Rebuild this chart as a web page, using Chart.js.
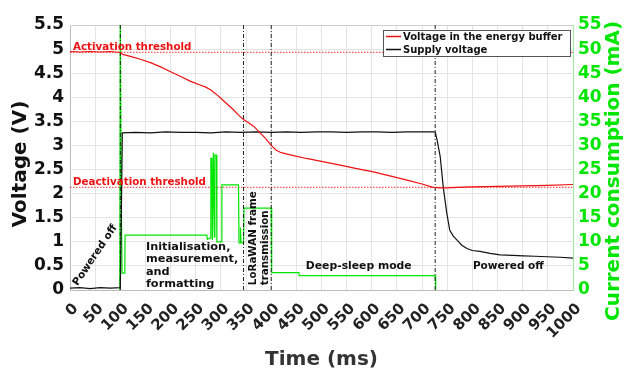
<!DOCTYPE html>
<html>
<head>
<meta charset="utf-8">
<script src="https://cdn.jsdelivr.net/npm/chart.js@4/dist/chart.umd.min.js"></script>
<style>
html,body{margin:0;padding:0;background:#fff;}
#wrap{width:625px;height:377px;}
</style>
</head>
<body>
<div id="wrap"><canvas id="c" width="625" height="377"></canvas></div>
<script>
// ---- Data ----
const bufferT = [0,20,40,60,80,100,105,120,140,160,180,200,220,240,260,270,280,290,300,310,325,335,345,355,365,378,390,400,410,420,440,470,500,537,570,603,640,670,700,722,735,750,770,800,850,900,950,1000];
const bufferV = [4.95,4.94,4.95,4.94,4.95,4.93,4.89,4.85,4.79,4.72,4.63,4.53,4.43,4.33,4.25,4.21,4.15,4.07,3.98,3.88,3.74,3.63,3.54,3.47,3.40,3.26,3.13,3.00,2.90,2.85,2.80,2.73,2.67,2.59,2.52,2.45,2.36,2.28,2.20,2.13,2.12,2.12,2.13,2.14,2.15,2.16,2.17,2.19];

const supplyT = [0,20,40,60,80,100,102,104,130,160,190,220,250,280,310,340,370,400,430,460,490,520,550,580,610,640,670,700,726,730,736,742,749,755,762,769,779,789,800,815,835,855,880,901,925,948,975,1000];
const supplyV = [0.04,0.05,0.03,0.05,0.04,0.05,1.5,3.26,3.27,3.26,3.28,3.27,3.27,3.26,3.28,3.27,3.28,3.27,3.28,3.27,3.28,3.28,3.27,3.28,3.28,3.27,3.28,3.28,3.28,3.10,2.77,2.14,1.60,1.24,1.12,1.04,0.93,0.86,0.82,0.80,0.76,0.73,0.72,0.71,0.70,0.69,0.68,0.66];

const currentT = [99,100,101,102,103,103.5,109,109.5,272,273,279,280,282,283,285,286,287,288,291,292,301,302,335,336,338,339,340,345,346,400,401,455,456,726,727];
const currentMA = [0,58,58,19,19,3.5,3.5,11.4,11.4,10.5,10.8,27.3,27.3,10.4,28.5,28.5,11,28,28,10,10,21.8,21.8,9.8,9.8,12.9,9.8,9.8,17,17,3.6,3.6,3.0,3.0,0];

const activationV = 4.93;
const deactivationV = 2.13;
const phaseMarkersMs = [100, 345, 400, 726];

const xTicksMs = {min:0, max:1000, step:50};
const voltTicks = {min:0, max:5.5, step:0.5};
const currentTicks = {min:0, max:55, step:5};

const seriesNames = ['Voltage in the energy buffer', 'Supply voltage', 'Current consumption'];

// ---- build datasets ----
const zip = (t, v) => t.map((x, i) => ({x, y: v[i]}));
const GREEN = '#00e600';
const FONT = "'DejaVu Sans', sans-serif";

const datasets = [
  {label: seriesNames[0], data: zip(bufferT, bufferV), borderColor: '#ee1111', borderWidth: 1.2, yAxisID: 'y', order: 0},
  {label: seriesNames[1], data: zip(supplyT, supplyV), borderColor: '#111111', borderWidth: 1.2, yAxisID: 'y', order: 1},
  {label: seriesNames[2], data: zip(currentT, currentMA), borderColor: GREEN, borderWidth: 1.2, yAxisID: 'y2', order: 2},
  {label: 'act', data: [{x: xTicksMs.min, y: activationV}, {x: xTicksMs.max, y: activationV}], borderColor: 'rgba(255,30,30,0.75)', borderWidth: 1.3, borderDash: [1.5,1.5], yAxisID: 'y', order: 3},
  {label: 'deact', data: [{x: xTicksMs.min, y: deactivationV}, {x: xTicksMs.max, y: deactivationV}], borderColor: 'rgba(255,30,30,0.75)', borderWidth: 1.3, borderDash: [1.5,1.5], yAxisID: 'y', order: 3}
];
phaseMarkersMs.forEach((m) => datasets.push({
  label: 'marker', data: [{x: m, y: voltTicks.min}, {x: m, y: voltTicks.max}],
  borderColor: '#222', borderWidth: 1, borderDash: [4,2,1,2], yAxisID: 'y', order: 1.5
}));
datasets.forEach(d => { d.pointRadius = 0; d.tension = 0; d.fill = false; });

// ---- text annotations (in data coordinates) ----
const notes = [
  {text: ['Activation threshold'], x: 6, yv: activationV, dy: -2.5, color: '#ee1111', size: 10.3},
  {text: ['Deactivation threshold'], x: 6, yv: deactivationV, dy: -2.5, color: '#ee1111', size: 10.3}
];

const overlay = {
  id: 'overlay',
  beforeDatasetsDraw(chart) {
    const {ctx, chartArea: a} = chart;
    ctx.save();
    ctx.strokeStyle = '#d0d0d0';
    ctx.lineWidth = 1;
    ctx.beginPath();
    ctx.moveTo(a.left, a.top + 0.5); ctx.lineTo(a.right, a.top + 0.5);
    ctx.stroke();
    ctx.restore();
  },
  afterDatasetsDraw(chart) {
    const {ctx, chartArea: a, scales} = chart;
    const X = scales.x, Y = scales.y;
    ctx.save();
    notes.forEach(n => {
      ctx.font = `bold ${n.size}px ${FONT}`;
      ctx.fillStyle = n.color;
      ctx.textAlign = 'left';
      ctx.textBaseline = 'alphabetic';
      ctx.fillText(n.text[0], X.getPixelForValue(n.x), Y.getPixelForValue(n.yv) + n.dy);
    });
    ctx.fillStyle = '#111';
    ctx.save();
    ctx.translate(X.getPixelForValue(50), Y.getPixelForValue(0.72));
    ctx.rotate(-56 * Math.PI / 180);
    ctx.font = `bold 10.5px ${FONT}`;
    ctx.textAlign = 'center'; ctx.textBaseline = 'middle';
    ctx.fillText('Powered off', 0, 0);
    ctx.restore();
    ctx.font = `bold 11.3px ${FONT}`;
    ctx.textAlign = 'left'; ctx.textBaseline = 'alphabetic';
    ['Initialisation,', 'measurement,', 'and', 'formatting'].forEach((s, i) => {
      ctx.fillText(s, X.getPixelForValue(151), Y.getPixelForValue(0.83) + i * 12.3);
    });
    ctx.font = `bold 10.3px ${FONT}`;
    [['LoRaWAN frame', 364], ['transmission', 389]].forEach(([s, t]) => {
      ctx.save();
      ctx.translate(X.getPixelForValue(t), Y.getPixelForValue(0.1));
      ctx.rotate(-Math.PI / 2);
      ctx.textAlign = 'left'; ctx.textBaseline = 'middle';
      ctx.fillText(s, 0, 0);
      ctx.restore();
    });
    ctx.font = `bold 10.8px ${FONT}`;
    ctx.textAlign = 'center'; ctx.textBaseline = 'middle';
    ctx.fillText('Deep-sleep mode', X.getPixelForValue(574), Y.getPixelForValue(0.49));
    ctx.font = `bold 10.5px ${FONT}`;
    ctx.textAlign = 'left';
    ctx.fillText('Powered off', X.getPixelForValue(801), Y.getPixelForValue(0.49));

    // legend box
    const lx = 383, ly = 30, lw = 187, lh = 26;
    ctx.fillStyle = '#fff';
    ctx.fillRect(lx, ly, lw, lh);
    ctx.strokeStyle = '#555'; ctx.lineWidth = 1;
    ctx.strokeRect(lx + 0.5, ly + 0.5, lw, lh);
    ctx.font = `bold 10px ${FONT}`;
    ctx.textAlign = 'left'; ctx.textBaseline = 'middle';
    [0, 1].forEach(i => {
      const ds = chart.data.datasets[i];
      const yy = ly + 6.5 + i * 13;
      ctx.strokeStyle = ds.borderColor; ctx.lineWidth = 1.5;
      ctx.beginPath(); ctx.moveTo(lx + 3, yy); ctx.lineTo(lx + 18, yy); ctx.stroke();
      ctx.fillStyle = '#111';
      ctx.fillText(ds.label, lx + 20, yy + 0.5);
    });

    // axis titles
    ctx.font = `bold 20px ${FONT}`;
    ctx.fillStyle = '#333';
    ctx.textAlign = 'center'; ctx.textBaseline = 'middle';
    ctx.fillText('Time (ms)', (a.left + a.right) / 2, 360);
    ctx.fillStyle = '#111';
    ctx.save();
    ctx.translate(21, 164); ctx.rotate(-Math.PI / 2);
    ctx.fillText('Voltage (V)', 0, 0);
    ctx.restore();
    ctx.save();
    ctx.fillStyle = GREEN;
    ctx.translate(614, 171); ctx.rotate(-Math.PI / 2);
    ctx.fillText('Current consumption (mA)', 0, 0);
    ctx.restore();
    ctx.restore();
  }
};

const plainNum = v => String(Math.round(v * 100) / 100);

new Chart(document.getElementById('c'), {
  type: 'line',
  data: {datasets},
  options: {
    responsive: false,
    animation: false,
    devicePixelRatio: 1,
    layout: {padding: {top: 25, left: 0, right: 0, bottom: 0}},
    plugins: {legend: {display: false}, tooltip: {enabled: false}},
    scales: {
      x: {
        type: 'linear', min: xTicksMs.min, max: xTicksMs.max,
        afterFit: s => { s.height = 87; },
        ticks: {stepSize: xTicksMs.step, maxRotation: 45, minRotation: 45, autoSkip: false, padding: 10, labelOffset: 6,
                callback: plainNum,
                color: '#222', font: {family: FONT, weight: 'bold', size: 15}},
        grid: {color: '#e4e4e4', drawTicks: false},
        border: {color: '#bbb'}
      },
      y: {
        type: 'linear', position: 'left', min: voltTicks.min, max: voltTicks.max,
        afterFit: s => { s.width = 70; },
        ticks: {stepSize: voltTicks.step, padding: 6, callback: plainNum, color: '#111', font: {family: FONT, weight: 'bold', size: 17}},
        grid: {color: '#e4e4e4', drawTicks: false},
        border: {color: '#bbb'}
      },
      y2: {
        type: 'linear', position: 'right', min: currentTicks.min, max: currentTicks.max,
        afterFit: s => { s.width = 52; },
        ticks: {stepSize: currentTicks.step, padding: 5, callback: plainNum, color: GREEN, font: {family: FONT, weight: 'bold', size: 17}},
        grid: {drawOnChartArea: false, drawTicks: false},
        border: {color: '#9df09d'}
      }
    }
  },
  plugins: [overlay]
});
</script>
</body>
</html>
